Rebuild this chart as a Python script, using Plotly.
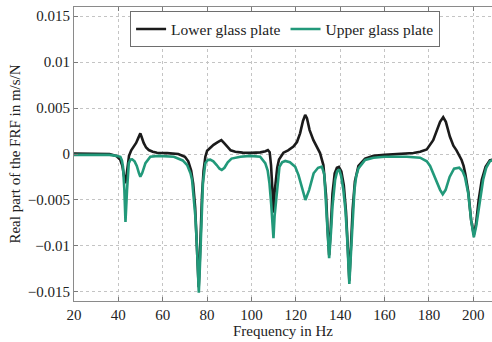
import plotly.graph_objects as go

# Lower glass plate (black)
lower_f = [20, 30, 36, 39, 40.8, 41.8, 42.5, 43.1, 43.6, 44.2, 44.8, 45.8, 46.9, 48.0, 48.9, 49.5, 49.9, 50.4,
           51.4, 52.5, 53.7, 55.5, 57.4, 62, 67, 70, 71.5, 72.8, 73.7, 74.6, 75.3, 75.8, 76.2, 76.6, 77.1,
           77.7, 78.4, 79.2, 80, 81.5, 82.9, 84.8, 86.4, 87.6, 88.9, 90.6, 92.7, 96, 100, 104, 106.3, 107.4,
           108.2, 108.8, 109.4, 109.9, 110.4, 111.0, 111.6, 112.4, 113.5, 114.4, 116.5, 118.9, 120.5, 121.9,
           123.2, 124.2, 125, 126.2, 127.9, 129.4, 130.9, 132.4, 133.6, 134.3, 135, 135.7, 136.5, 137.5,
           138.5, 139.4, 140.5, 141.6, 142.6, 143.4, 144.1, 144.8, 145.6, 146.6, 148.2, 151.2, 155, 160, 168,
           173, 176, 179, 181.9, 183.5, 185, 186.4, 187.6, 189.4, 191, 192.4, 193.5, 194.7, 195.6, 196.4,
           197.7, 199, 200.2, 201.2, 202.4, 203.8, 205.5, 207.4, 209]
lower_v = [0.00005, 0.00005, 0.0, -0.0002, -0.0006, -0.0013, -0.0024, -0.0032, -0.0025, -0.001, -0.0002,
           0.0004, 0.0008, 0.0012, 0.0017, 0.0021, 0.00225, 0.0019, 0.0012, 0.0007, 0.00043, 0.00025,
           0.00014, 0.0001, 0.0, -0.0003, -0.0008, -0.0018, -0.0032, -0.0058, -0.009, -0.0123, -0.0145,
           -0.0122, -0.0082, -0.0045, -0.0018, -0.0003, 0.00036, 0.0007, 0.001, 0.0013, 0.00152, 0.0012,
           0.0008, 0.0004, 0.00025, 0.00015, 0.00012, 0.00018, 0.0003, 0.00043, 0.0002, -0.0012, -0.0038,
           -0.0064, -0.0042, -0.0025, -0.0015, -0.0006, -0.0001, 0.00014, 0.0004, 0.0008, 0.0013, 0.00225,
           0.0036, 0.00425, 0.0039, 0.0026, 0.0015, 0.0008, 0.0001, -0.0012, -0.0045, -0.0082, -0.0110,
           -0.0082, -0.0043, -0.0021, -0.0015, -0.0014, -0.0019, -0.0034, -0.0063, -0.0102, -0.0138,
           -0.0102, -0.006, -0.003, -0.0013, -0.0005, -0.0002, -0.0001, 0.0, 0.0001, 0.00025, 0.0005,
           0.0015, 0.0025, 0.0035, 0.004, 0.0035, 0.0019, 0.0009, 0.0004, -0.0001, -0.00065, -0.0013,
           -0.0022, -0.0041, -0.0072, -0.0088, -0.0076, -0.005, -0.0028, -0.0014, -0.0007, -0.0006]

# Upper glass plate (green)
upper_f = [20, 30, 36, 39, 40.9, 41.6, 42.1, 42.7, 43.2, 43.9, 44.7, 45.5, 46.2, 47.3, 48.3, 49.3, 49.9,
           50.7, 52.2, 54.4, 58, 65, 69, 71, 72.5, 73.2, 74.7, 75.3, 75.7, 76.25, 76.7, 77.2, 77.7, 78.1,
           79.2, 80.3, 81.4, 82.8, 84.3, 85.6, 86.6, 87.8, 89.3, 91, 95, 99.4, 103.9, 106.2, 107.3, 108.1,
           108.9, 109.5, 109.9, 110.4, 111.4, 112.6, 113.8, 115.2, 117.3, 119.7, 121.2, 122.7, 124.3, 126,
           128, 130, 131.7, 132.8, 133.6, 134.3, 135, 135.8, 136.5, 137.7, 138.6, 139.5, 140.4, 141.4, 142.3,
           143, 143.6, 144.1, 144.6, 145.2, 145.8, 146.4, 147.2, 148.2, 151.2, 155, 160, 170, 176, 179,
           180.5, 181.9, 183.5, 185, 186.2, 187.5, 189.3, 191.3, 193.6, 195.2, 196.2, 197.7, 199, 200.2,
           201.3, 203, 204.4, 205.8, 207.4, 209]
upper_v = [-0.0001, -0.0001, -0.0001, -0.0002, -0.0003, -0.0007, -0.0014, -0.0039, -0.0074, -0.0039,
           -0.001, -0.0006, -0.00058, -0.0008, -0.0013, -0.0021, -0.00247, -0.0021, -0.001, -0.0003,
           -0.0002, -0.0003, -0.0007, -0.0012, -0.0021, -0.0028, -0.0068, -0.0095, -0.0119, -0.0151,
           -0.0125, -0.0083, -0.0052, -0.0032, -0.001, -0.00065, -0.00062, -0.0008, -0.0012, -0.0016,
           -0.00174, -0.0015, -0.0009, -0.0005, -0.0003, -0.0002, -0.0003, -0.001, -0.0018, -0.0032,
           -0.0055, -0.0078, -0.00917, -0.0068, -0.0039, -0.0014, -0.0009, -0.00076, -0.0009, -0.0014,
           -0.0023, -0.0036, -0.005, -0.0039, -0.0021, -0.0015, -0.00138, -0.0022, -0.0057, -0.0088,
           -0.01134, -0.0086, -0.0057, -0.0028, -0.0019, -0.00167, -0.0024, -0.0039, -0.006, -0.0086,
           -0.0118, -0.01413, -0.0118, -0.0093, -0.0062, -0.0039, -0.0024, -0.00156, -0.00065, -0.0004,
           -0.0003, -0.0003, -0.0004, -0.0008, -0.0013, -0.0021, -0.0031, -0.0039, -0.00438, -0.0039,
           -0.0025, -0.0016, -0.00149, -0.0019, -0.0025, -0.0043, -0.0072, -0.00906, -0.0078, -0.005,
           -0.0028, -0.0015, -0.0008, -0.0006]

x_ticks = [20, 40, 60, 80, 100, 120, 140, 160, 180, 200]
y_ticks = [0.015, 0.01, 0.005, 0, -0.005, -0.01, -0.015]
y_tick_text = ["0.015", "0.01", "0.005", "0", "\u22120.005", "\u22120.01", "\u22120.015"]

FONT = "Liberation Serif"
fig = go.Figure()
fig.add_trace(go.Scatter(x=lower_f, y=lower_v, mode="lines", name="Lower glass plate",
                         line=dict(color="#1b1b1b", width=2.6)))
fig.add_trace(go.Scatter(x=upper_f, y=upper_v, mode="lines", name="Upper glass plate",
                         line=dict(color="#22997a", width=2.6)))

fig.update_layout(
    width=492, height=342,
    margin=dict(l=73.5, r=0, t=7, b=41),
    paper_bgcolor="white", plot_bgcolor="white",
    font=dict(family=FONT, size=15, color="#222222"),
    showlegend=True,
    legend=dict(orientation="h", x=0.505, xanchor="center", y=0.985, yanchor="top",
                bgcolor="white", bordercolor="#6e6e6e", borderwidth=1,
                font=dict(family=FONT, size=15.5, color="#222222"),
                tracegroupgap=0, itemwidth=30),
)
fig.update_xaxes(
    range=[20, 208.4], tickvals=x_ticks, ticks="inside", ticklen=4, tickcolor="#7a7a7a",
    showline=True, linecolor="#8a8a8a", linewidth=1, mirror="ticks",
    showgrid=True, gridcolor="#c4c4c4", griddash="dot", gridwidth=1, zeroline=False,
    title=dict(text="Frequency in Hz", standoff=1, font=dict(family=FONT, size=15)),
)
fig.update_yaxes(
    range=[-0.016, 0.016], tickvals=y_ticks, ticktext=y_tick_text, ticks="inside", ticklen=4,
    tickcolor="#7a7a7a", showline=True, linecolor="#8a8a8a", linewidth=1, mirror=False,
    showgrid=True, gridcolor="#c4c4c4", griddash="dot", gridwidth=1, zeroline=False,
    title=dict(text="Real part of the FRF in m/s/N", standoff=3, font=dict(family=FONT, size=15)),
)

fig.write_html("out.html")
